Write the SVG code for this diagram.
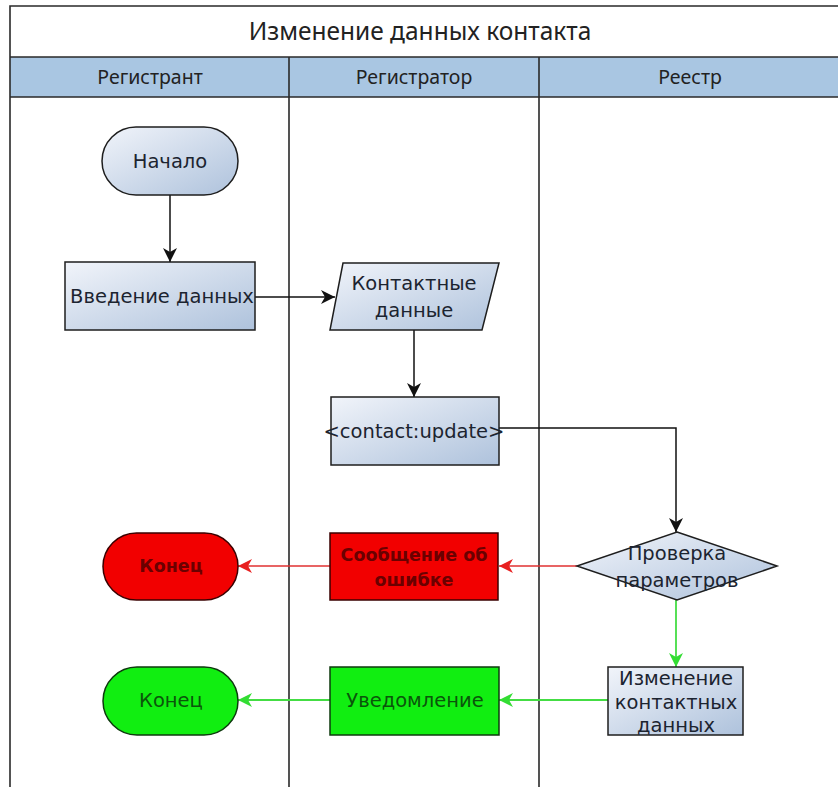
<svg xmlns="http://www.w3.org/2000/svg" width="838" height="787" viewBox="0 0 838 787">
<defs>
  <linearGradient id="g" x1="0" y1="0" x2="1" y2="1">
    <stop offset="0" stop-color="#f1f4fa"/>
    <stop offset="1" stop-color="#aec2dc"/>
  </linearGradient>
  <marker id="ak" markerUnits="userSpaceOnUse" markerWidth="16" markerHeight="16" refX="14" refY="7" orient="auto">
    <path d="M0,0 L14,7 L0,14 L4,7 z" fill="#111"/>
  </marker>
  <marker id="ar" markerUnits="userSpaceOnUse" markerWidth="16" markerHeight="16" refX="14" refY="7" orient="auto">
    <path d="M0,0 L14,7 L0,14 L4,7 z" fill="#e82020"/>
  </marker>
  <marker id="ag" markerUnits="userSpaceOnUse" markerWidth="16" markerHeight="16" refX="14" refY="7" orient="auto">
    <path d="M0,0 L14,7 L0,14 L4,7 z" fill="#33dd33"/>
  </marker>
</defs>
<style>
  .frame{fill:none;stroke:#2a2a2a;stroke-width:1.6}
  .hdr{font-family:"Noto Sans","DejaVu Sans",sans-serif;fill:#222;text-anchor:middle}
  .n{fill:url(#g);stroke:#1e1e1e;stroke-width:1.5}
  .red{fill:#f20000;stroke:#3a0000;stroke-width:1.5}
  .grn{fill:#11ee11;stroke:#0e3a0e;stroke-width:1.5}
  .t{font-family:"DejaVu Sans","Liberation Sans",sans-serif;font-size:19.5px;fill:#1c2430;text-anchor:middle}
  .tr{fill:#6a0000;font-weight:bold;font-size:17.5px}
  .tg{fill:#0b550b}
  .ck{fill:none;stroke:#111;stroke-width:1.5;marker-end:url(#ak)}
  .cr{fill:none;stroke:#e03030;stroke-width:1.5;marker-end:url(#ar)}
  .cg{fill:none;stroke:#44dd44;stroke-width:1.8;marker-end:url(#ag)}
</style>
<rect width="838" height="787" fill="#ffffff"/>
<g id="pool">
  <rect x="10" y="57" width="830" height="40" fill="#a9c6e2"/>
  <path class="frame" d="M10,787 V6 H840 M10,57 H840 M10,97 H840 M289,57 V787 M539,57 V787"/>
  <text class="hdr" x="420" y="40" font-size="24.5">Изменение данных контакта</text>
  <text class="hdr" x="150" y="84" font-size="19.5">Регистрант</text>
  <text class="hdr" x="414" y="84" font-size="19.5">Регистратор</text>
  <text class="hdr" x="690" y="84" font-size="19.5">Реестр</text>
</g>
<g id="connectors">
  <path class="ck" d="M255,297 H335"/>
  <path class="ck" d="M170,195 V262"/>
  <path class="ck" d="M414,330 V397"/>
  <path class="ck" d="M499,428 H676 V532"/>
  <path class="cr" d="M577,566 H499"/>
  <path class="cr" d="M330,566 H238"/>
  <path class="cg" d="M676,600 V667"/>
  <path class="cg" d="M608,700 H499"/>
  <path class="cg" d="M330,700 H238"/>
</g>
<g id="start">
  <rect class="n" x="102" y="127" width="136" height="68" rx="34"/>
  <text class="t" x="170" y="168">Начало</text>
</g>
<g id="input">
  <rect class="n" x="65" y="262" width="190" height="68"/>
  <text class="t" x="162" y="303">Введение данных</text>
</g>
<g id="contactData">
  <path class="n" d="M343,263 H499 L482,330 H330 Z"/>
  <text class="t" x="414" y="290">Контактные</text>
  <text class="t" x="414" y="317">данные</text>
</g>
<g id="update">
  <rect class="n" x="331" y="397" width="168" height="68"/>
  <text class="t" x="414" y="438" font-size="18">&lt;contact:update&gt;</text>
</g>
<g id="check">
  <path class="n" d="M677,532 L777,566 L677,600 L577,566 Z"/>
  <text class="t" x="677" y="560">Проверка</text>
  <text class="t" x="677" y="587">параметров</text>
</g>
<g id="error">
  <rect class="red" x="330" y="533" width="168" height="67"/>
  <text class="t tr" x="414" y="561">Сообщение об</text>
  <text class="t tr" x="414" y="586">ошибке</text>
</g>
<g id="endRed">
  <rect class="red" x="103" y="533" width="135" height="67" rx="33.5"/>
  <text class="t tr" x="171" y="572">Конец</text>
</g>
<g id="change">
  <rect class="n" x="608" y="667" width="135" height="68"/>
  <text class="t" x="676" y="685">Изменение</text>
  <text class="t" x="676" y="709">контактных</text>
  <text class="t" x="676" y="732">данных</text>
</g>
<g id="notify">
  <rect class="grn" x="330" y="667" width="169" height="68"/>
  <text class="t tg" x="415" y="707">Уведомление</text>
</g>
<g id="endGreen">
  <rect class="grn" x="103" y="667" width="135" height="68" rx="34"/>
  <text class="t tg" x="171" y="707">Конец</text>
</g>
</svg>
